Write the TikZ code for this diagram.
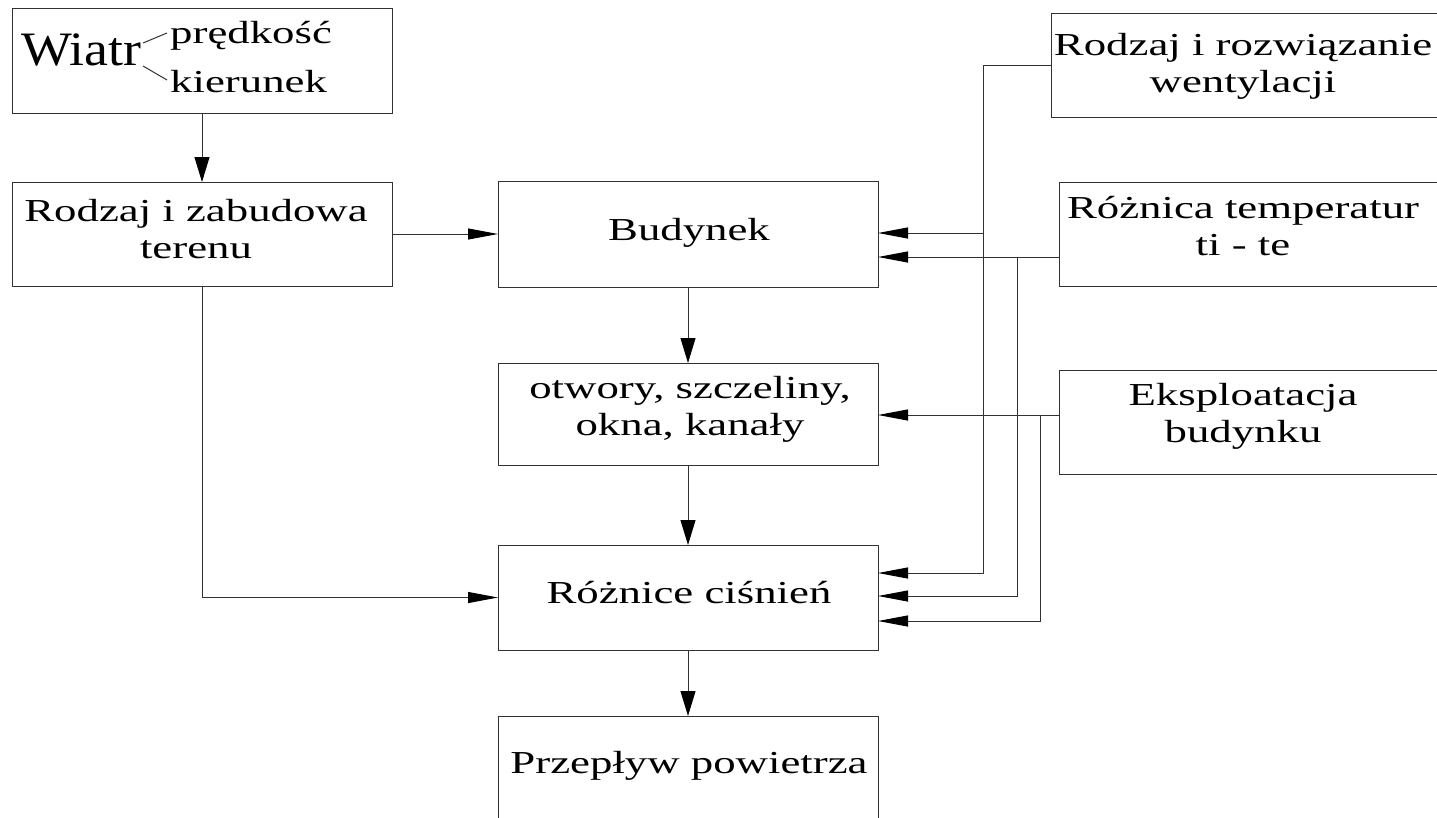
\documentclass[tikz,border=0pt]{standalone}
\usepackage{fontspec}
\setmainfont[FakeStretch=1.4]{Liberation Serif}
\newfontfamily\wiatrfont[FakeStretch=1.12]{Liberation Serif}
\usetikzlibrary{arrows.meta}
\definecolor{linec}{RGB}{50,50,50}
\begin{document}
\begin{tikzpicture}[x=1pt,y=-1pt,
  box/.style={draw=linec, line width=1pt, inner sep=0pt, outer sep=0pt},
  txt/.style={anchor=base, align=center, inner sep=0pt, font=\fontsize{32}{37}\selectfont},
  conn/.style={draw=linec, line width=1pt},
  harr/.style={conn, -{Triangle[length=30pt,width=11pt,color=black]}},
  varr/.style={conn, -{Triangle[length=25pt,width=15pt,color=black]}}]
\useasboundingbox (0,0) rectangle (1437,817);
% boxes
\node[box, minimum width=380, minimum height=105] (wiatr) at (202,60.5) {};
\node[box, minimum width=380, minimum height=104] (teren) at (202,234) {};
\node[box, minimum width=380, minimum height=106] (bud) at (688,234) {};
\node[box, minimum width=380, minimum height=102] (otw) at (688,414) {};
\node[box, minimum width=380, minimum height=105] (roz) at (688,597.5) {};
\node[box, minimum width=380, minimum height=106] (prz) at (688,769) {};
\node[box, minimum width=394, minimum height=104] (went) at (1248,65) {};
\node[box, minimum width=386, minimum height=104] (temp) at (1252,234) {};
\node[box, minimum width=386, minimum height=104] (eks) at (1252,422) {};
% texts
\node[anchor=base west, inner sep=0pt, font=\wiatrfont\fontsize{48}{48}\selectfont] (tw) at (21,65) {Wiatr};
\node[anchor=base west, inner sep=0pt, font=\fontsize{32}{37}\selectfont] (tpred) at (170,43) {prędkość};
\node[anchor=base west, inner sep=0pt, font=\fontsize{32}{37}\selectfont] (tkier) at (170,92) {kierunek};
\node[txt] (tteren) at (196,258) {Rodzaj i zabudowa\\terenu};
\node[txt] (tbud) at (689,240) {Budynek};
\node[txt] (totw) at (690,435) {otwory, szczeliny,\\okna, kanały};
\node[txt] (troz) at (689,603) {Różnice ciśnień};
\node[txt] (tprz) at (689,773) {Przepływ powietrza};
\node[txt] (twent) at (1243,92) {Rodzaj i rozwiązanie\\wentylacji};
\node[txt] (ttemp) at (1243,255) {Różnica temperatur\\ti - te};
\node[txt] (teks) at (1243,442) {Eksploatacja\\budynku};
% small lines at Wiatr
\coordinate (wa1) at (143,43);
\coordinate (wb1) at (167,33);
\coordinate (wa2) at (143,66);
\coordinate (wb2) at (167,80);
\draw[conn] (wa1) -- (wb1);
\draw[conn] (wa2) -- (wb2);
% vertical arrows
\draw[varr] (wiatr.south) -- (teren.north);
\draw[varr] (bud.south) -- (otw.north);
\draw[varr] (otw.south) -- (roz.north);
\draw[varr] (roz.south) -- (prz.north);
% horizontal
\draw[harr] (teren.east) -- (bud.west);
\draw[harr] (teren.south) |- (roz.west);
% right side connectors
\coordinate (v1) at (983,0);
\coordinate (v2) at (1017,0);
\coordinate (v3) at (1040,0);
\coordinate (b1) at ([yshift=1pt]bud.east);
\coordinate (b2) at ([yshift=-23pt]bud.east);
\coordinate (o1) at ([yshift=-1pt]otw.east);
\coordinate (r1) at ([yshift=24.5pt]roz.east);
\coordinate (r2) at ([yshift=1.5pt]roz.east);
\coordinate (r3) at ([yshift=-23.5pt]roz.east);
\coordinate (tw1) at ([yshift=-23pt]temp.west);
\coordinate (ew1) at ([yshift=7pt]eks.west);
\draw[harr] (went.west) -- (went.west -| v1) -- (v1 |- r1) -- (r1);
\draw[harr] (v1 |- b1) -- (b1);
\draw[harr] (tw1) -- (b2);
\draw[harr] (v2 |- tw1) -- (v2 |- r2) -- (r2);
\draw[harr] (ew1) -- (o1);
\draw[harr] (v3 |- ew1) -- (v3 |- r3) -- (r3);
\end{tikzpicture}
\end{document}
